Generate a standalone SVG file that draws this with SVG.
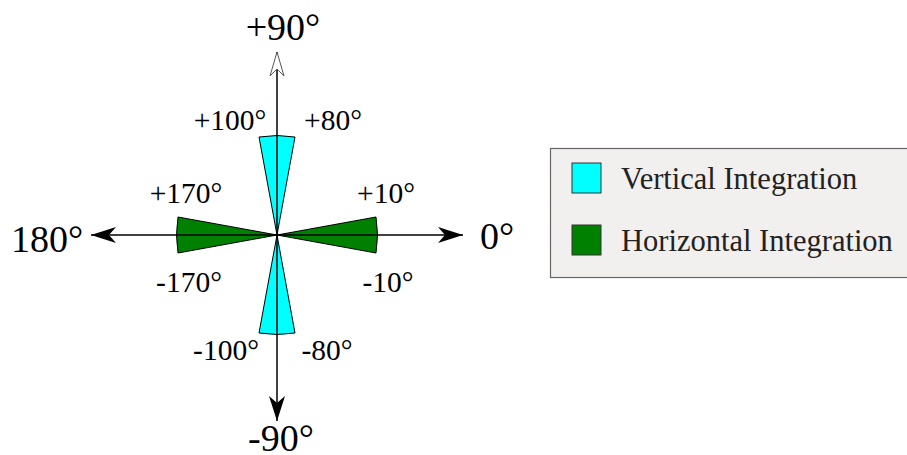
<svg xmlns="http://www.w3.org/2000/svg" width="907" height="455" viewBox="0 0 907 455">
<style>
.big{font-family:"Liberation Serif","Times New Roman",serif;font-size:38px;fill:#000}
.sm{font-family:"Liberation Serif","Times New Roman",serif;font-size:29.5px;fill:#000}
.leg{font-family:"Liberation Serif","Times New Roman",serif;font-size:30.5px;fill:#222}
.v{fill:#00ffff;stroke:#000;stroke-width:1}
.h{fill:#008000;stroke:#000;stroke-width:1}
.ax{stroke:#000;stroke-width:1.5;fill:none}
</style>
<defs>
<marker id="arr" markerWidth="26" markerHeight="16" refX="25" refY="8" orient="auto" markerUnits="userSpaceOnUse">
<path d="M0,0 L25,8 L0,16 L7,8 Z" fill="#000"/>
</marker>
<marker id="arrh" markerWidth="26" markerHeight="16" refX="25" refY="8" orient="auto" markerUnits="userSpaceOnUse">
<path d="M1,1 L25,8 L1,15 L8,8 Z" fill="#fff" stroke="#555" stroke-width="1"/>
</marker>
</defs>
<g id="wedges">
<path class="v" d="M277,235 L259,137 Q277,134 295,137 Z"/>
<path class="v" d="M277,235 L259,333 Q277,336 295,333 Z"/>
<path class="h" d="M277,235 L178,217 Q175,235 178,253 Z"/>
<path class="h" d="M277,235 L376,217 Q379,235 376,253 Z"/>
</g>
<g id="connectors">
<line class="ax" x1="277" y1="235" x2="463" y2="235" marker-end="url(#arr)"/>
<line class="ax" x1="277" y1="235" x2="91" y2="235" marker-end="url(#arr)"/>
<line class="ax" x1="277" y1="235" x2="277" y2="421" marker-end="url(#arr)"/>
<line class="ax" x1="277" y1="235" x2="277" y2="52" marker-end="url(#arrh)"/>
</g>
<g id="labels">
<text class="big" x="283" y="40" text-anchor="middle">+90°</text>
<text class="big" x="281" y="451" text-anchor="middle">-90°</text>
<text class="big" x="11" y="252">180°</text>
<text class="big" x="480" y="249">0°</text>
<text class="sm" x="230" y="130" text-anchor="middle">+100°</text>
<text class="sm" x="333" y="130" text-anchor="middle">+80°</text>
<text class="sm" x="186" y="203" text-anchor="middle">+170°</text>
<text class="sm" x="386" y="203" text-anchor="middle">+10°</text>
<text class="sm" x="189" y="292" text-anchor="middle">-170°</text>
<text class="sm" x="388" y="292" text-anchor="middle">-10°</text>
<text class="sm" x="226" y="360" text-anchor="middle">-100°</text>
<text class="sm" x="327" y="360" text-anchor="middle">-80°</text>
</g>
<g id="legend">
<rect x="550.5" y="148.5" width="366" height="129" fill="#f2efef" stroke="#666" stroke-width="1.2"/>
<rect x="572" y="163" width="29" height="30" fill="#00ffff" stroke="#333" stroke-width="1"/>
<rect x="572" y="225" width="29" height="30" fill="#008000" stroke="#333" stroke-width="1"/>
<text class="leg" x="621" y="189">Vertical Integration</text>
<text class="leg" x="621" y="251">Horizontal Integration</text>
</g>
</svg>
